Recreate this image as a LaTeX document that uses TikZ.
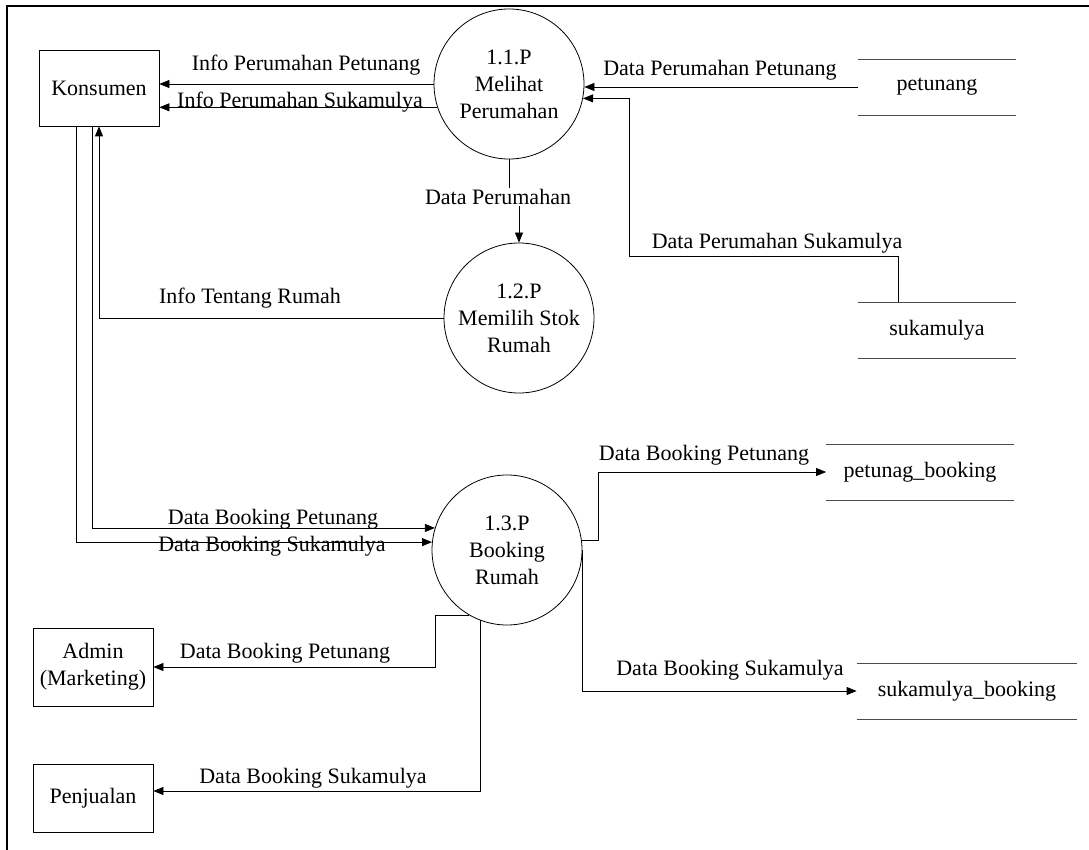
\documentclass[tikz,border=0pt]{standalone}
\usepackage{fontspec}
\setmainfont{Liberation Serif}
\usetikzlibrary{arrows.meta}

\begin{document}
\begin{tikzpicture}[
  x=1pt, y=-1pt, line width=0.8pt,
  font=\fontsize{22}{27}\selectfont,
  entity/.style={draw, align=center, minimum width=120pt, inner sep=2pt},
  proc/.style={draw, circle, align=center, minimum size=150pt, inner sep=0pt},
  store/.style={align=center, minimum height=55pt, inner sep=0pt},
  storeline/.style={draw=black!70, line width=0.5pt},
  lbl/.style={inner sep=1pt},
  arr/.style={-{Triangle[length=10pt, width=8pt]}}
]
  \useasboundingbox (0,0) rectangle (1089,850);
  \draw[line width=2pt] (7,850) -- (7,6) -- (1089,6);

  % entities
  \node[entity, minimum height=76pt] (kon) at (99,88) {Konsumen};
  \node[entity, minimum height=78pt] (adm) at (93,667) {Admin\\(Marketing)};
  \node[entity, minimum height=68pt] (pen) at (93,798) {Penjualan};

  % processes
  \node[proc] (p11) at (509,84) {1.1.P\\Melihat\\Perumahan};
  \node[proc] (p12) at (519,318) {1.2.P\\Memilih Stok\\Rumah};
  \node[proc] (p13) at (507,550) {1.3.P\\Booking\\Rumah};

  % data stores
  \node[store, minimum width=157pt] (pet) at (937,87) {petunang};
  \node[store, minimum width=157pt] (suk) at (937,330) {sukamulya};
  \node[store, minimum width=187pt] (ptb) at (920,472) {petunag\_booking};
  \node[store, minimum width=220pt] (skb) at (967,691) {sukamulya\_booking};
  \foreach \s in {pet,suk,ptb,skb}
    \draw[storeline] (\s.north west) -- (\s.north east) (\s.south west) -- (\s.south east);

  % flow labels
  \node[lbl] (lIPP) at (306,65) {Info Perumahan Petunang};
  \node[lbl] (lIPS) at (300,102) {Info Perumahan Sukamulya};
  \node[lbl] (lDPP) at (720,70) {Data Perumahan Petunang};
  \node[lbl] (lDPS) at (777,243) {Data Perumahan Sukamulya};
  \node[lbl] (lDP) at (498,197) {Data Perumahan};
  \node[lbl] (lITR) at (250,298) {Info Tentang Rumah};
  \node[lbl] (lDBP1) at (273,519) {Data Booking Petunang};
  \node[lbl] (lDBS1) at (272,546) {Data Booking Sukamulya};
  \node[lbl] (lDBP2) at (704,455) {Data Booking Petunang};
  \node[lbl] (lDBS2) at (730,670) {Data Booking Sukamulya};
  \node[lbl] (lDBP3) at (285,653) {Data Booking Petunang};
  \node[lbl] (lDBS3) at (313,778) {Data Booking Sukamulya};

  % flows
  \coordinate (dps) at (629,256);
  \draw[arr] (p11.west) -- (p11.west -| kon.east);
  \draw[arr] (p11.198.9) -- (p11.198.9 -| kon.east);
  \draw[arr] (pet.west) -- (pet.west -| p11.east);
  \draw[arr] ([xshift=-39pt]suk.north) |- (dps) |- (p11.-11.7);
  \draw (p11.south) -- (p11.south |- lDP.north);
  \draw[arr] (lDP.south -| p12.north) -- (p12.north);
  \draw[arr] (p12.west) -| (kon.south);
  \draw[arr] ([xshift=-7pt]kon.south) |- (p13.163.7);
  \draw[arr] ([xshift=-23pt]kon.south) |- (p13.174.6);
  \draw[arr] (p13.7.7) -- ++(17,0) |- (ptb.west);
  \draw[arr] (p13.east) |- (skb.west);
  \draw[arr] (p13.-120.4) -- ++(-34,0) |- (adm.east);
  \draw[arr] (p13.-111.9) |- ([yshift=7pt]pen.east);
\end{tikzpicture}
\end{document}
